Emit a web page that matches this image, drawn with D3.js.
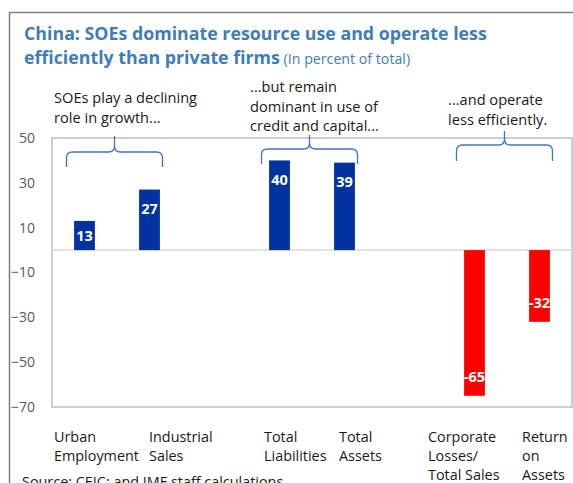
<!DOCTYPE html>
<html>
<head>
<meta charset="utf-8">
<script src="https://cdn.jsdelivr.net/npm/d3@7"></script>
<style>
  body { margin: 0; background: #fff; }
  svg { display: block; font-family: "Open Sans", "Noto Sans", sans-serif; }
</style>
</head>
<body>
<div id="chart"></div>
<script>
// Data
var categories = ["Urban Employment", "Industrial Sales", "gap1", "Total Liabilities", "Total Assets", "gap2", "Corporate Losses/ Total Sales", "Return on Assets"];
var values = [13, 27, null, 40, 39, null, -65, -32];
var labelLines = [["Urban", "Employment"], ["Industrial", "Sales"], [], ["Total", "Liabilities"], ["Total", "Assets"], [], ["Corporate", "Losses/", "Total Sales"], ["Return", "on", "Assets"]];
var yTicks = [-70, -50, -30, -10, 10, 30, 50];
var groupNotes = [
  { from: "Urban Employment", to: "Industrial Sales", lines: ["SOEs play a declining", "role in growth..."] },
  { from: "Total Liabilities", to: "Total Assets", lines: ["...but remain", "dominant in use of", "credit and capital..."] },
  { from: "Corporate Losses/ Total Sales", to: "Return on Assets", lines: ["...and operate", "less efficiently."] }
];

var W = 573, H = 483;
var margin = { top: 138, right: 1, bottom: 76, left: 52 };
var width = W - margin.left - margin.right,
    height = H - margin.top - margin.bottom;

var svg = d3.select("#chart").append("svg")
    .attr("width", W)
    .attr("height", H);

// Outer frame (only top and left visible)
svg.append("path")
    .attr("d", "M9.5," + H + "V12.5H" + W)
    .attr("fill", "none")
    .attr("stroke", "#7f7f7f")
    .attr("stroke-width", 1.5);

// Title
var title = svg.append("text")
    .attr("x", 24)
    .attr("y", 40)
    .style("font-size", "17.8px")
    .style("font-weight", "bold")
    .style("fill", "#3f7db6");
title.append("tspan").text("China: SOEs dominate resource use and operate less");
title.append("tspan").attr("x", 24).attr("dy", 24).text("efficiently than private firms");
title.append("tspan")
    .style("font-weight", "normal")
    .style("font-size", "14.2px")
    .text(" (In percent of total)");

var g = svg.append("g")
    .attr("transform", "translate(" + margin.left + "," + margin.top + ")");

var x = d3.scaleBand()
    .domain(categories)
    .range([0, width])
    .paddingInner(0.68)
    .paddingOuter(0.34);

var y = d3.scaleLinear()
    .domain([-70, 50])
    .range([height, 0]);

// Plot border
g.append("rect")
    .attr("x", 0)
    .attr("y", 0)
    .attr("width", width)
    .attr("height", height)
    .attr("fill", "none")
    .attr("stroke", "#bfbfbf")
    .attr("stroke-width", 1.5);

// Y axis labels
var yAxis = g.append("g")
    .call(d3.axisLeft(y).tickValues(yTicks).tickSize(0).tickPadding(17));
yAxis.select(".domain").remove();
yAxis.selectAll("text")
    .style("font-family", "'Open Sans', sans-serif")
    .style("font-size", "14px")
    .style("fill", "#595959");

// Zero line
g.append("line")
    .attr("x1", 0)
    .attr("x2", width)
    .attr("y1", y(0))
    .attr("y2", y(0))
    .attr("stroke", "#d9d9d9")
    .attr("stroke-width", 1.5);

var data = categories.map(function (c, i) { return { cat: c, value: values[i] }; })
    .filter(function (d) { return d.value !== null; });

// Bars
g.selectAll(".bar")
    .data(data)
    .enter().append("rect")
    .attr("class", "bar")
    .attr("x", function (d) { return x(d.cat); })
    .attr("width", x.bandwidth())
    .attr("y", function (d) { return y(Math.max(0, d.value)); })
    .attr("height", function (d) { return Math.abs(y(d.value) - y(0)); })
    .attr("fill", function (d) { return d.value >= 0 ? "#0033a0" : "#ff0000"; });

// Value labels inside bar end
g.selectAll(".val")
    .data(data)
    .enter().append("text")
    .attr("class", "val")
    .attr("x", function (d) { return x(d.cat) + x.bandwidth() / 2; })
    .attr("y", function (d) {
      var h = Math.abs(y(d.value) - y(0));
      var off = Math.min(19, h / 2);
      return d.value >= 0 ? y(d.value) + off : y(d.value) - off;
    })
    .attr("dy", "0.36em")
    .attr("text-anchor", "middle")
    .style("font-size", "14.5px")
    .style("font-weight", "bold")
    .style("fill", "#fff")
    .text(function (d) { return d.value; });

// Category labels (left aligned text boxes under the plot)
var labelShift = [-30.5, -0.5, 0, -15.5, -5.5, 0, -46.5, -17.5];
var catLabels = g.selectAll(".cat")
    .data(categories)
    .enter().append("text")
    .attr("class", "cat")
    .attr("transform", function (d, i) {
      return "translate(" + (x(d) + x.bandwidth() / 2 + labelShift[i]) + "," + (height + 35) + ")";
    })
    .style("font-size", "14.4px")
    .style("fill", "#1a1a1a");
catLabels.each(function (d, i) {
  var t = d3.select(this);
  labelLines[i].forEach(function (line, j) {
    t.append("tspan").attr("x", 0).attr("y", j * 19).text(line);
  });
});

// Group notes with curly braces
var braceTop = [136, 135, 131];
var braceMid = [152, 149, 145];
var braceEnd = [167, 164, 161];
var noteY = [103, 92, 105];
groupNotes.forEach(function (n, k) {
  var x0 = margin.left + x(n.from) + x.bandwidth() / 2 - 18;
  var x1 = margin.left + x(n.to) + x.bandwidth() / 2 + 13;
  var xm = (x0 + x1) / 2;
  var r = 6;
  var p = d3.path();
  p.moveTo(x0, braceEnd[k]);
  p.lineTo(x0, braceMid[k] + r);
  p.quadraticCurveTo(x0, braceMid[k], x0 + r, braceMid[k]);
  p.lineTo(xm - r, braceMid[k]);
  p.quadraticCurveTo(xm, braceMid[k], xm, braceMid[k] - r);
  p.lineTo(xm, braceTop[k]);
  p.moveTo(xm, braceMid[k] - r);
  p.quadraticCurveTo(xm, braceMid[k], xm + r, braceMid[k]);
  p.lineTo(x1 - r, braceMid[k]);
  p.quadraticCurveTo(x1, braceMid[k], x1, braceMid[k] + r);
  p.lineTo(x1, braceEnd[k]);
  svg.append("path")
      .attr("d", p.toString())
      .attr("fill", "none")
      .attr("stroke", "#4472c4")
      .attr("stroke-width", 1.3);

  var t = svg.append("text")
      .attr("y", noteY[k])
      .style("font-size", "14.6px")
      .style("fill", "#1a1a1a");
  n.lines.forEach(function (line, j) {
    t.append("tspan").attr("x", margin.left + x(n.from) + [-20, -19, -16][k]).attr("y", noteY[k] + j * 19.5).text(line);
  });
});

// Source
svg.append("text")
    .attr("x", 22)
    .attr("y", 487)
    .style("font-size", "14.4px")
    .style("fill", "#1a1a1a")
    .text("Source: CEIC; and IMF staff calculations.");
</script>
</body>
</html>
